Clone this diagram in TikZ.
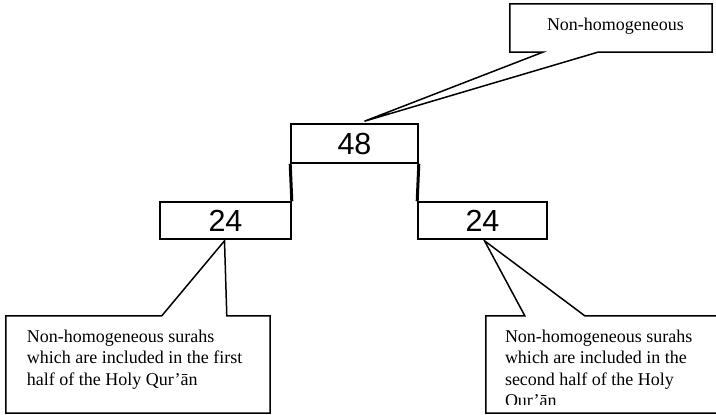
\documentclass[tikz,border=0pt]{standalone}
\usepackage{fontspec}
\setmainfont{Liberation Serif}
\setsansfont{Liberation Sans}
\usetikzlibrary{calc}
\tikzset{
  numbox/.style   = {draw, line width=1.6pt, inner sep=0pt,
                     font=\fontsize{30.5}{34}\sffamily\selectfont},
  stem/.style     = {line width=3pt},
  %
  noteframe/.style = {inner sep=0pt},
  callout/.style  = {draw, line width=1.5pt, fill=white, line join=miter},
  notetext/.style = {align=left, inner sep=0pt, anchor=north west,
                     font=\fontsize{18}{21.5}\selectfont},
}

\begin{document}
\begin{tikzpicture}[x=1pt, y=-1pt]
  \clip (0,0) rectangle (716,415);

  % ---------- number boxes ------------------------------------------------
  \node[numbox, minimum width=127pt, minimum height=39pt] (n48) at (354.5,143.5) {48};
  \node[numbox, minimum width=131pt, minimum height=37pt] (l24) at (225.5,220.5) {24};
  \node[numbox, minimum width=129pt, minimum height=37pt] (r24) at (482.5,220.5) {24};

  \draw[stem] (n48.south west) -- (l24.north east);
  \draw[stem] (n48.south east) -- (r24.north west);

  % ---------- top callout -------------------------------------------------
  \node[noteframe, minimum width=202pt, minimum height=48pt] (topnote) at (611,28) {};
  \draw[callout] (topnote.north west) -- (topnote.north east) -- (topnote.south east)
      -- ($(topnote.south west)+(88,0)$) -- ($(n48.north)+(10,-2)$)
      -- ($(topnote.south west)+(33,0)$) -- (topnote.south west) -- cycle;
  \node[notetext, anchor=base west] (toptext) at ($(topnote.north west)+(37,27)$)
      {Non-homogeneous};

  % ---------- left callout ------------------------------------------------
  \node[noteframe, minimum width=264pt, minimum height=97pt] (lnote) at (138,364.5) {};
  \draw[callout] (lnote.north west) -- ($(lnote.north west)+(156,0)$)
      -- ($(l24.south)+(-1,1)$) -- ($(lnote.north west)+(221,0)$)
      -- (lnote.north east) -- (lnote.south east) -- (lnote.south west) -- cycle;
  \node[notetext] (ltext) at ($(lnote.north west)+(21,11)$)
      {\strut Non-homogeneous surahs\\ which are included in the first\\
       half of the Holy Qur’ān};

  % ---------- right callout -----------------------------------------------
  \node[noteframe, minimum width=244pt, minimum height=97pt] (rnote) at (608,364.5) {};
  \draw[callout] (rnote.north west) -- ($(rnote.north west)+(39,0)$)
      -- ($(r24.south)+(2,1)$) -- ($(rnote.north west)+(99,0)$)
      -- (rnote.north east) -- (rnote.south east) -- (rnote.south west) -- cycle;
  \begin{scope}
    \clip ($(rnote.north west)+(1,1)$) rectangle ($(rnote.south east)+(-1,-9)$);
    \node[notetext] (rtext) at ($(rnote.north west)+(19,11)$)
        {\strut Non-homogeneous surahs\\ which are included in the\\
         second half of the Holy\\ Qur’ān};
  \end{scope}

\end{tikzpicture}
\end{document}
